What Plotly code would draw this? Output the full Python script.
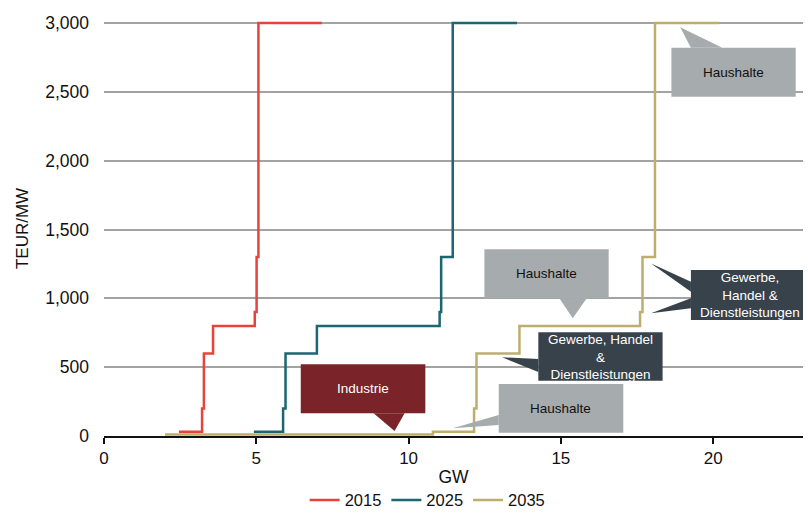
import plotly.graph_objects as go

# Merit-order curves: cumulative capacity (GW) vs. cost (TEUR/MW)
gw_2015 = [2.46, 3.22, 3.28, 3.58, 4.95, 5.01, 5.07, 7.15]
eur_2015 = [30, 200, 600, 800, 900, 1300, 3000, 3000]

gw_2025 = [4.92, 5.88, 5.96, 6.99, 11.02, 11.07, 11.45, 13.56]
eur_2025 = [30, 200, 600, 800, 900, 1300, 3000, 3000]

gw_2035 = [2.0, 10.8, 12.15, 12.23, 13.64, 17.6, 17.68, 18.09, 20.2]
eur_2035 = [10, 30, 200, 600, 800, 900, 1300, 3000, 3000]

series_names = ["2015", "2025", "2035"]
series_colors = ["#E8433A", "#1B6670", "#BDAE70"]

y_ticks = [0, 500, 1000, 1500, 2000, 2500, 3000]
x_ticks = [0, 5, 10, 15, 20]

FONT = "Liberation Sans, Arial, sans-serif"

fig = go.Figure()
for name, xs, ys, col in zip(series_names,
                             [gw_2015, gw_2025, gw_2035],
                             [eur_2015, eur_2025, eur_2035],
                             series_colors):
    fig.add_trace(go.Scatter(x=xs, y=ys, mode="lines", name=name,
                             line=dict(color=col, width=2.5, shape="hv")))

# Callout boxes: (text, fill, text colour, box [x0, x1, y0, y1], pointer polygons, text position)
GRAY = "#A6ABAD"
DARK = "#38424B"
WINE = "#7A242A"
callouts = [
    ("Industrie", WINE, "white", [6.46, 10.55, 165, 521],
     [[(8.85, 165), (9.54, 36), (9.87, 165)]], (8.5, 343)),
    ("Haushalte", GRAY, "#111111", [12.49, 16.57, 1000, 1356],
     [[(14.95, 1000), (15.39, 855), (15.85, 1000)]], (14.53, 1178)),
    ("Gewerbe, Handel<br>&<br>Dienstleistungen", DARK, "white", [14.26, 18.34, 402, 753],
     [[(14.26, 559), (13.07, 572), (14.26, 465)]], (16.3, 577)),
    ("Haushalte", GRAY, "#111111", [12.96, 17.05, 24, 378],
     [[(12.96, 153), (11.45, 56), (12.96, 80)]], (15.0, 201)),
    ("Haushalte", GRAY, "#111111", [18.63, 22.71, 2465, 2820],
     [[(19.27, 2820), (18.92, 2969), (20.3, 2820)]], (20.67, 2642)),
    ("Gewerbe,<br>Handel &<br>Dienstleistungen", DARK, "white", [19.27, 23.4, 843, 1206],
     [[(19.27, 1121), (17.96, 1254), (19.27, 1048)],
      [(19.27, 1000), (17.96, 891), (19.27, 928)]], (21.2, 1024)),
]

shapes = []
annotations = []
for text, fill, tcol, box, pointers, (tx, ty) in callouts:
    x0, x1, y0, y1 = box
    shapes.append(dict(type="rect", xref="x", yref="y", x0=x0, x1=x1, y0=y0, y1=y1,
                       fillcolor=fill, line=dict(width=0), layer="above"))
    for poly in pointers:
        path = "M " + " L ".join(f"{px},{py}" for px, py in poly) + " Z"
        shapes.append(dict(type="path", xref="x", yref="y", path=path,
                           fillcolor=fill, line=dict(width=0), layer="above"))
    annotations.append(dict(x=tx, y=ty, xref="x", yref="y", text=text, showarrow=False,
                            font=dict(family=FONT, size=13.5, color=tcol),
                            align="center"))

fig.update_layout(
    width=808, height=515,
    margin=dict(l=104, r=5, t=21, b=79, autoexpand=False),
    paper_bgcolor="white", plot_bgcolor="white",
    font=dict(family=FONT, color="#111111"),
    shapes=shapes,
    annotations=annotations,
    showlegend=True,
    legend=dict(orientation="h", x=0.463, xanchor="center", y=-0.155, yanchor="middle",
                font=dict(family=FONT, size=16.5, color="#111111"),
                itemwidth=30, tracegroupgap=0, bgcolor="rgba(0,0,0,0)"),
)

fig.update_xaxes(
    range=[0, 22.95], tickvals=x_ticks, ticktext=[str(v) for v in x_ticks],
    showgrid=False, zeroline=False,
    showline=True, linecolor="#111111", linewidth=1.5,
    ticks="outside", ticklen=6, tickwidth=1.5, tickcolor="#111111",
    tickfont=dict(family=FONT, size=17, color="#111111"),
    title=dict(text="GW", font=dict(family=FONT, size=17.5, color="#111111"), standoff=4),
)

fig.update_yaxes(
    range=[0, 3015], tickvals=y_ticks, tickformat=",d",
    showgrid=True, gridcolor="#A3A3A3", gridwidth=1.5,
    zeroline=False, showline=False, ticks="",
    ticklabelstandoff=14,
    tickfont=dict(family=FONT, size=17.5, color="#111111"),
    title=dict(text="TEUR/MW", font=dict(family=FONT, size=17, color="#111111"), standoff=12),
)

fig.write_html("out.html")
